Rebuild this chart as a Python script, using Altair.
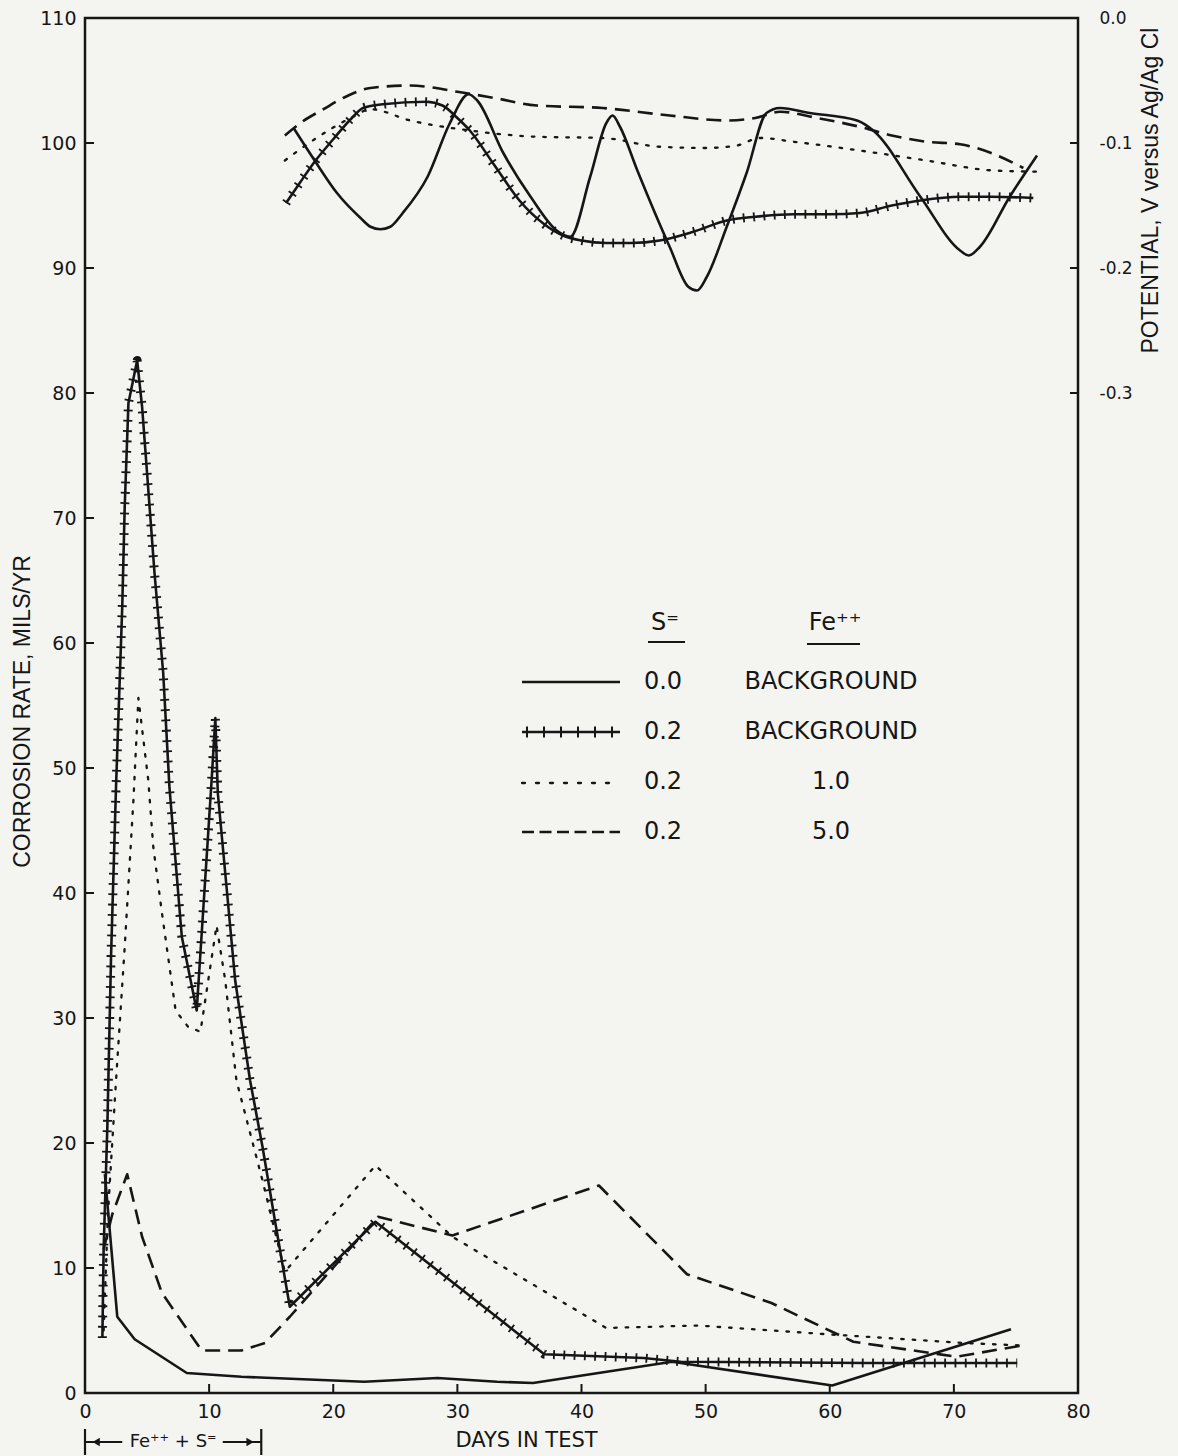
import altair as alt
import pandas as pd

# ---------------------------------------------------------------- data
# Corrosion rate (mils/yr) vs days in test, one series per solution
days_s00 = [1.6, 2.6, 4.0, 8.2, 12.6, 22.5, 28.4, 33.2, 36.1, 47.3, 60.2, 74.6]
rate_s00 = [17.5, 6.1, 4.3, 1.6, 1.3, 0.9, 1.2, 0.9, 0.8, 2.5, 0.6, 5.1]

days_s02 = [1.4, 1.5, 1.8, 2.1, 2.5, 3.0, 3.2, 3.5, 4.2, 4.6, 5.0, 5.6, 6.3, 6.8,
            7.8, 9.0, 10.2, 10.5, 10.7, 12.1, 13.3, 14.3, 15.3, 16.5, 23.4, 37.0,
            45.0, 48.0, 62.8, 75.1]
rate_s02 = [4.4, 11.4, 21.3, 35.0, 48.5, 62.9, 70.9, 79.2, 82.6, 78.9, 73.6, 65.6,
            57.6, 48.5, 36.5, 30.6, 49.0, 54.0, 48.0, 33.0, 25.0, 19.7, 13.8, 6.9,
            13.7, 3.1, 2.8, 2.5, 2.4, 2.4]

days_fe1 = [1.5, 1.85, 2.5, 3.2, 3.9, 4.3, 5.1, 5.5, 6.2, 7.3, 8.3, 9.3, 10.6, 11.3,
            12.2, 14.3, 16.1, 23.4, 29.6, 42.0, 49.4, 59.8, 70.8, 75.5]
rate_fe1 = [5.0, 14.4, 25.0, 35.7, 47.4, 55.6, 49.0, 43.7, 38.4, 30.6, 29.3, 28.9,
            37.4, 33.0, 25.0, 17.0, 9.7, 18.2, 12.5, 5.2, 5.4, 4.7, 4.0, 3.8]

days_fe5 = [1.5, 2.2, 3.4, 4.6, 6.2, 9.4, 12.6, 14.5, 16.5, 23.6, 29.6, 41.4, 48.5,
            55.3, 61.9, 70.2, 75.5]
rate_fe5 = [11.5, 14.3, 17.5, 12.5, 8.0, 3.4, 3.4, 4.0, 6.1, 14.1, 12.6, 16.6, 9.5,
            7.2, 4.1, 2.9, 3.8]

# Potential (V versus Ag/AgCl) vs days in test
pday_s00 = [16.8, 18.5, 20.3, 22.2, 23.0, 23.8, 24.6, 25.6, 27.6, 29.4, 30.9, 31.6,
            33.7, 35.9, 38.0, 39.1, 40.7, 42.0, 42.5, 43.1, 44.5, 47.1, 48.6, 49.3,
            50.1, 51.7, 53.3, 54.9, 56.0, 58.4, 62.2, 63.5, 67.3, 70.5, 71.2, 72.1,
            74.5, 76.7]
volt_s00 = [-0.088, -0.114, -0.140, -0.160, -0.167, -0.169, -0.167, -0.156, -0.127,
            -0.084, -0.061, -0.066, -0.108, -0.143, -0.170, -0.175, -0.127, -0.084,
            -0.078, -0.087, -0.122, -0.183, -0.215, -0.218, -0.207, -0.167, -0.124,
            -0.076, -0.072, -0.076, -0.082, -0.090, -0.143, -0.186, -0.190, -0.183,
            -0.143, -0.110]

pday_s02 = [16.2, 17.3, 18.5, 20.0, 21.5, 22.4, 24.0, 27.5, 28.8, 30.0, 31.0, 33.0,
            35.0, 37.0, 38.5, 40.0, 42.0, 44.0, 46.3, 49.0, 51.7, 54.0, 57.1, 60.0,
            62.4, 65.0, 67.3, 70.5, 73.0, 76.4]
volt_s02 = [-0.148, -0.132, -0.115, -0.097, -0.080, -0.072, -0.069, -0.067, -0.070,
            -0.080, -0.090, -0.118, -0.146, -0.165, -0.174, -0.178, -0.180, -0.180,
            -0.178, -0.171, -0.162, -0.159, -0.157, -0.157, -0.156, -0.150, -0.146,
            -0.143, -0.143, -0.144]

pday_fe1 = [16.1, 18.5, 21.6, 23.0, 26.2, 31.0, 36.4, 41.7, 46.3, 50.0, 52.5, 54.4,
            57.1, 62.4, 67.8, 73.2, 77.0]
volt_fe1 = [-0.114, -0.097, -0.079, -0.073, -0.082, -0.090, -0.095, -0.096, -0.103,
            -0.104, -0.102, -0.096, -0.099, -0.106, -0.114, -0.122, -0.123]

pday_fe5 = [16.1, 17.5, 19.2, 21.0, 23.0, 26.2, 30.0, 33.0, 36.4, 41.7, 47.1, 51.7,
            54.0, 56.0, 59.0, 62.4, 65.0, 67.8, 70.5, 73.0, 75.6]
volt_fe5 = [-0.094, -0.083, -0.073, -0.063, -0.056, -0.054, -0.059, -0.064, -0.070,
            -0.072, -0.078, -0.082, -0.080, -0.075, -0.080, -0.087, -0.094, -0.099,
            -0.101, -0.108, -0.120]

# Axis ticks
rate_ticks = list(range(0, 120, 10))
day_ticks = list(range(0, 90, 10))
volt_ticks = [0.0, -0.1, -0.2, -0.3]

# Legend table
legend_s = ["0.0", "0.2", "0.2", "0.2"]
legend_fe = ["BACKGROUND", "BACKGROUND", "1.0", "5.0"]

# Period of Fe++ and S= additions (days)
addition_days = [0.0, 14.2]

# ---------------------------------------------------------------- style
FONT = "DejaVu Sans"
TITLE_FONT = "Liberation Sans"
INK = "#161616"
PAPER = "#f4f4f1"
W, H = 993, 1375
LW = 2.6

x_scale = alt.Scale(domain=[0, 80], nice=False, zero=False)
y_scale = alt.Scale(domain=[0, 110], nice=False, zero=False)
v_scale = alt.Scale(domain=[-1.1, 0.0], nice=False, zero=False)

x_axis = alt.Axis(values=day_ticks, tickSize=0, domain=False, grid=False,
                  labelPadding=9, labelFontSize=19, labelFont=FONT,
                  labelColor=INK, labelFlush=False,
                  title="DAYS IN TEST", titleFont=FONT, titleFontSize=21,
                  titleFontWeight="normal", titleColor=INK,
                  titleX=441, titleY=47, titleAlign="center",
                  titleBaseline="middle")
y_axis = alt.Axis(values=rate_ticks, tickSize=0, domain=False, grid=False,
                  labelPadding=9, labelFontSize=19, labelFont=FONT,
                  labelColor=INK, labelFlush=False,
                  title="CORROSION RATE, MILS/YR", titleFont=TITLE_FONT,
                  titleFontSize=23, titleFontWeight="normal", titleColor=INK,
                  titleAngle=270, titleX=-63, titleY=693, titleAlign="center",
                  titleBaseline="middle")
v_axis = alt.Axis(orient="right", values=volt_ticks, tickSize=0, domain=False,
                  grid=False, labelPadding=21, labelFontSize=17, labelFont=FONT,
                  labelColor=INK, labelFlush=False,
                  labelExpr="datum.value == 0 ? '0.0' : '-' + format(abs(datum.value), '.1f')",
                  title="POTENTIAL, V versus Ag/Ag Cl", titleFont=TITLE_FONT,
                  titleFontSize=23, titleFontWeight="normal", titleColor=INK,
                  titleAngle=270, titleX=72, titleY=172, titleAlign="center",
                  titleBaseline="middle")


def xenc(field="day"):
    return alt.X(f"{field}:Q", scale=x_scale, axis=x_axis)


def yenc(field="rate"):
    return alt.Y(f"{field}:Q", scale=y_scale, axis=y_axis)


def venc(field="volt"):
    return alt.Y(f"{field}:Q", scale=v_scale, axis=v_axis)


def frame(xs, ys, yname):
    return pd.DataFrame({"day": xs, yname: ys, "i": range(len(xs))})


SOLID = dict(strokeWidth=LW)
DOTTED = dict(strokeWidth=2.3, strokeDash=[2.5, 9], strokeCap="round")
DASHED = dict(strokeWidth=LW, strokeDash=[15, 8])
TICKBARS = dict(strokeWidth=9, strokeDash=[1.8, 8.5])


def curve(df, y, style, interp="linear"):
    return alt.Chart(df).mark_line(color=INK, strokeJoin="round",
                                   interpolate=interp, clip=True,
                                   **style).encode(x=xenc(), y=y,
                                                   order="i:Q")


def crossed(df, y, interp="linear"):
    # solid line carrying short cross-bars
    return [curve(df, y, SOLID, interp), curve(df, y, TICKBARS, interp)]


# ---------------------------------------------------------------- corrosion panel
r00 = frame(days_s00, rate_s00, "rate")
r02 = frame(days_s02, rate_s02, "rate")
r1 = frame(days_fe1, rate_fe1, "rate")
r5 = frame(days_fe5, rate_fe5, "rate")

left_layers = [curve(r00, yenc(), SOLID)]
left_layers += crossed(r02, yenc())
left_layers += [curve(r1, yenc(), DOTTED), curve(r5, yenc(), DASHED)]

# inward ticks on the left and bottom frame
left_layers.append(
    alt.Chart(pd.DataFrame({"tick": rate_ticks})).mark_rule(
        color=INK, strokeWidth=2).encode(
        y=yenc("tick"), x=alt.value(0), x2=alt.value(9)))
left_layers.append(
    alt.Chart(pd.DataFrame({"tick": day_ticks})).mark_rule(
        color=INK, strokeWidth=2).encode(
        x=xenc("tick"), y=alt.value(H), y2=alt.value(H - 9)))

# legend: line samples, two text columns and underlined headers
one = pd.DataFrame({"k": [0]})
row_y = [664, 714, 765, 814]
sample_styles = [SOLID, None, dict(strokeWidth=2.3, strokeDash=[3, 11], strokeCap="round"),
                 dict(strokeWidth=LW, strokeDash=[12, 5.5])]
for ry, st in zip(row_y, sample_styles):
    if st is None:
        left_layers.append(alt.Chart(one).mark_rule(color=INK, strokeWidth=LW).encode(
            x=alt.value(437), x2=alt.value(535), y=alt.value(ry)))
        left_layers.append(alt.Chart(one).mark_rule(
            color=INK, strokeWidth=11, strokeDash=[2, 15]).encode(
            x=alt.value(441), x2=alt.value(535), y=alt.value(ry)))
    else:
        left_layers.append(alt.Chart(one).mark_rule(color=INK, **st).encode(
            x=alt.value(437), x2=alt.value(535), y=alt.value(ry)))

left_layers.append(alt.Chart(one).mark_text(
    font=FONT, fontSize=24, color=INK, align="center", baseline="middle",
    lineHeight=50).encode(x=alt.value(578), y=alt.value(row_y[0]),
                          text=alt.value(legend_s)))
left_layers.append(alt.Chart(one).mark_text(
    font=FONT, fontSize=24, color=INK, align="center", baseline="middle",
    lineHeight=50).encode(x=alt.value(746), y=alt.value(row_y[0]),
                          text=alt.value(legend_fe)))
left_layers.append(alt.Chart(one).mark_text(
    font=FONT, fontSize=24, color=INK, align="center", baseline="middle").encode(
    x=alt.value(580), y=alt.value(605), text=alt.value("S\u207c")))
left_layers.append(alt.Chart(one).mark_text(
    font=FONT, fontSize=24, color=INK, align="center", baseline="middle").encode(
    x=alt.value(750), y=alt.value(605), text=alt.value("Fe\u207a\u207a")))
for x0, x1, uy in [(563, 600, 624), (722, 775, 626)]:
    left_layers.append(alt.Chart(one).mark_rule(color=INK, strokeWidth=2).encode(
        x=alt.value(x0), x2=alt.value(x1), y=alt.value(uy)))

# bracket under the axis marking the addition period
span = pd.DataFrame({"day": addition_days})
lo, hi = addition_days
mid = (lo + hi) / 2
BY = 1424
left_layers.append(alt.Chart(span).mark_rule(color=INK, strokeWidth=2.2).encode(
    x=xenc(), y=alt.value(BY - 13), y2=alt.value(BY + 13)))
arms = pd.DataFrame({"day": [lo, hi - 3.1], "day2": [lo + 3.0, hi]})
left_layers.append(alt.Chart(arms).mark_rule(color=INK, strokeWidth=2).encode(
    x=xenc(), x2="day2:Q", y=alt.value(BY)))
heads = pd.DataFrame({"day": [lo + 0.9, hi - 0.9],
                      "shape": ["triangle-left", "triangle-right"]})
for _, h in heads.iterrows():
    left_layers.append(alt.Chart(pd.DataFrame([h])).mark_point(
        shape=h["shape"], filled=True, color=INK, size=70, opacity=1).encode(
        x=xenc(), y=alt.value(BY)))
left_layers.append(alt.Chart(pd.DataFrame({"day": [mid]})).mark_text(
    font=FONT, fontSize=18, color=INK, align="center", baseline="middle").encode(
    x=xenc(), y=alt.value(BY), text=alt.value("Fe\u207a\u207a + S\u207c")))

# ---------------------------------------------------------------- potential panel
p00 = frame(pday_s00, volt_s00, "volt")
p02 = frame(pday_s02, volt_s02, "volt")
p1 = frame(pday_fe1, volt_fe1, "volt")
p5 = frame(pday_fe5, volt_fe5, "volt")

right_layers = [curve(p00, venc(), SOLID, "monotone")]
right_layers += crossed(p02, venc(), "monotone")
right_layers += [curve(p1, venc(), DOTTED, "monotone"),
                 curve(p5, venc(), DASHED, "monotone")]
right_layers.append(
    alt.Chart(pd.DataFrame({"tick": volt_ticks})).mark_rule(
        color=INK, strokeWidth=2).encode(
        y=venc("tick"), x=alt.value(W - 8), x2=alt.value(W)))

corrosion = alt.layer(*left_layers)
potential = alt.layer(*right_layers)

chart = alt.layer(corrosion, potential).resolve_scale(y="independent").properties(
    width=W, height=H,
    autosize=alt.AutoSizeParams(type="none"),
    padding={"left": 85, "top": 18, "right": 100, "bottom": 63},
    background=PAPER,
).configure_view(stroke=INK, strokeWidth=2.5, fill=PAPER)

chart.save("out.html", embed_options={"renderer": "svg", "actions": False})
